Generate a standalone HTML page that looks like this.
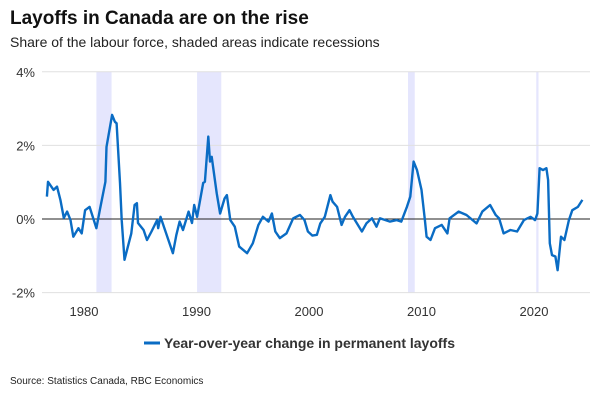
<!DOCTYPE html>
<html><head><meta charset="utf-8"><style>
body{margin:0;width:600px;height:400px;background:#fff;font-family:"Liberation Sans",Arial,sans-serif;overflow:hidden}
</style></head><body>
<svg width="600" height="400" xmlns="http://www.w3.org/2000/svg" font-family="Liberation Sans, Arial, sans-serif">
<text x="10" y="24" font-size="19" font-weight="bold" fill="#111">Layoffs in Canada are on the rise</text>
<text x="10" y="47" font-size="14" fill="#222">Share of the labour force, shaded areas indicate recessions</text>
<g id="plot"></g>
<g>
<line x1="144" y1="343" x2="160" y2="343" stroke="#0a6cc4" stroke-width="3"/>
<text x="164" y="348" font-size="14" font-weight="bold" fill="#333">Year-over-year change in permanent layoffs</text>
</g>
<text x="10" y="384" font-size="10" fill="#222">Source: Statistics Canada, RBC Economics</text>
</svg>
<script>
const years=[1976.7,1976.8,1977.3,1977.6,1977.9,1978.2,1978.5,1978.8,1979.05,1979.5,1979.8,1980.1,1980.5,1981.1,1981.4,1981.9,1982.0,1982.5,1982.75,1982.9,1983.2,1983.35,1983.6,1983.9,1984.2,1984.5,1984.7,1984.8,1985.3,1985.6,1986.0,1986.5,1986.6,1986.8,1987.2,1987.5,1987.9,1988.2,1988.5,1988.8,1989.3,1989.6,1989.8,1990.05,1990.6,1990.75,1991.05,1991.2,1991.35,1991.8,1992.1,1992.5,1992.7,1993.0,1993.4,1993.8,1994.5,1995.0,1995.5,1995.9,1996.4,1996.7,1997.0,1997.4,1998.0,1998.6,1999.2,1999.6,1999.9,2000.3,2000.7,2001.0,2001.4,2001.9,2002.1,2002.5,2002.9,2003.2,2003.6,2003.9,2004.7,2005.1,2005.6,2006.0,2006.3,2007.2,2007.8,2008.2,2008.7,2009.0,2009.3,2009.6,2010.0,2010.3,2010.45,2010.8,2011.2,2011.8,2012.3,2012.5,2013.3,2014.0,2014.9,2015.4,2016.1,2016.6,2016.9,2017.3,2017.9,2018.5,2019.1,2019.7,2020.1,2020.3,2020.5,2020.8,2021.1,2021.25,2021.4,2021.6,2021.9,2022.1,2022.4,2022.7,2023.1,2023.4,2023.9,2024.3];
const values=[0.61,1.01,0.79,0.88,0.52,0.03,0.2,-0.03,-0.48,-0.25,-0.39,0.24,0.33,-0.25,0.24,1.01,1.96,2.83,2.64,2.6,0.98,-0.03,-1.11,-0.75,-0.39,0.38,0.43,-0.11,-0.3,-0.57,-0.34,-0.03,-0.25,0.06,-0.3,-0.57,-0.93,-0.44,-0.07,-0.3,0.2,-0.11,0.38,0.06,0.98,1.01,2.24,1.56,1.69,0.7,0.15,0.56,0.65,-0.03,-0.21,-0.75,-0.93,-0.66,-0.16,0.06,-0.07,0.15,-0.34,-0.52,-0.39,0.02,0.11,-0.03,-0.34,-0.45,-0.43,-0.12,0.06,0.65,0.47,0.33,-0.16,0.06,0.24,0.06,-0.34,-0.12,0.02,-0.21,0.02,-0.07,-0.03,-0.07,0.33,0.61,1.56,1.33,0.79,-0.03,-0.48,-0.57,-0.25,-0.16,-0.39,0.02,0.2,0.11,-0.12,0.2,0.38,0.11,0.02,-0.39,-0.3,-0.34,-0.03,0.06,-0.03,0.15,1.38,1.33,1.38,1.06,-0.66,-0.98,-1.02,-1.39,-0.48,-0.57,-0.03,0.24,0.33,0.52];
const recStart=[1981.1,1990.05,2008.8,2020.2];
const recEnd=[1982.45,1992.2,2009.4,2020.4];
const yTicks=[4,2,0,-2];
const yTickLabels=["4%","2%","0%","-2%"];
const xTicks=[1980,1990,2000,2010,2020];
const X=y=>84+(y-1980)*11.25;
const Y=v=>219-v*36.8;
const NS="http://www.w3.org/2000/svg";
const g=document.getElementById('plot');
function mk(t,a){const e=document.createElementNS(NS,t);for(const k in a)e.setAttribute(k,a[k]);g.appendChild(e);return e;}
recStart.forEach((s,i)=>{const r=mk('rect',{x:X(s),y:Y(4),width:Math.max(2,X(recEnd[i])-X(s)),height:Y(-2)-Y(4),fill:'#e5e6fd'});

});
yTicks.forEach((v,i)=>{const l=mk('line',{x1:42,x2:590,y1:Y(v),y2:Y(v),stroke:v===0?'#222':'#e0e0e0','stroke-width':1});


const t=mk('text',{x:35,y:Y(v)+5,'text-anchor':'end','font-size':13,fill:'#333'});t.textContent=yTickLabels[i];

});
xTicks.forEach(y=>{const t=mk('text',{x:X(y),y:316,'text-anchor':'middle','font-size':13,fill:'#333'});t.textContent=y;

});
const p=mk('path',{d:years.map((y,i)=>(i?'L':'M')+X(y).toFixed(1)+','+Y(values[i]).toFixed(1)).join(''),fill:'none',stroke:'#0a6cc4','stroke-width':2.4,'stroke-linejoin':'round'});


</script>
</body></html>
